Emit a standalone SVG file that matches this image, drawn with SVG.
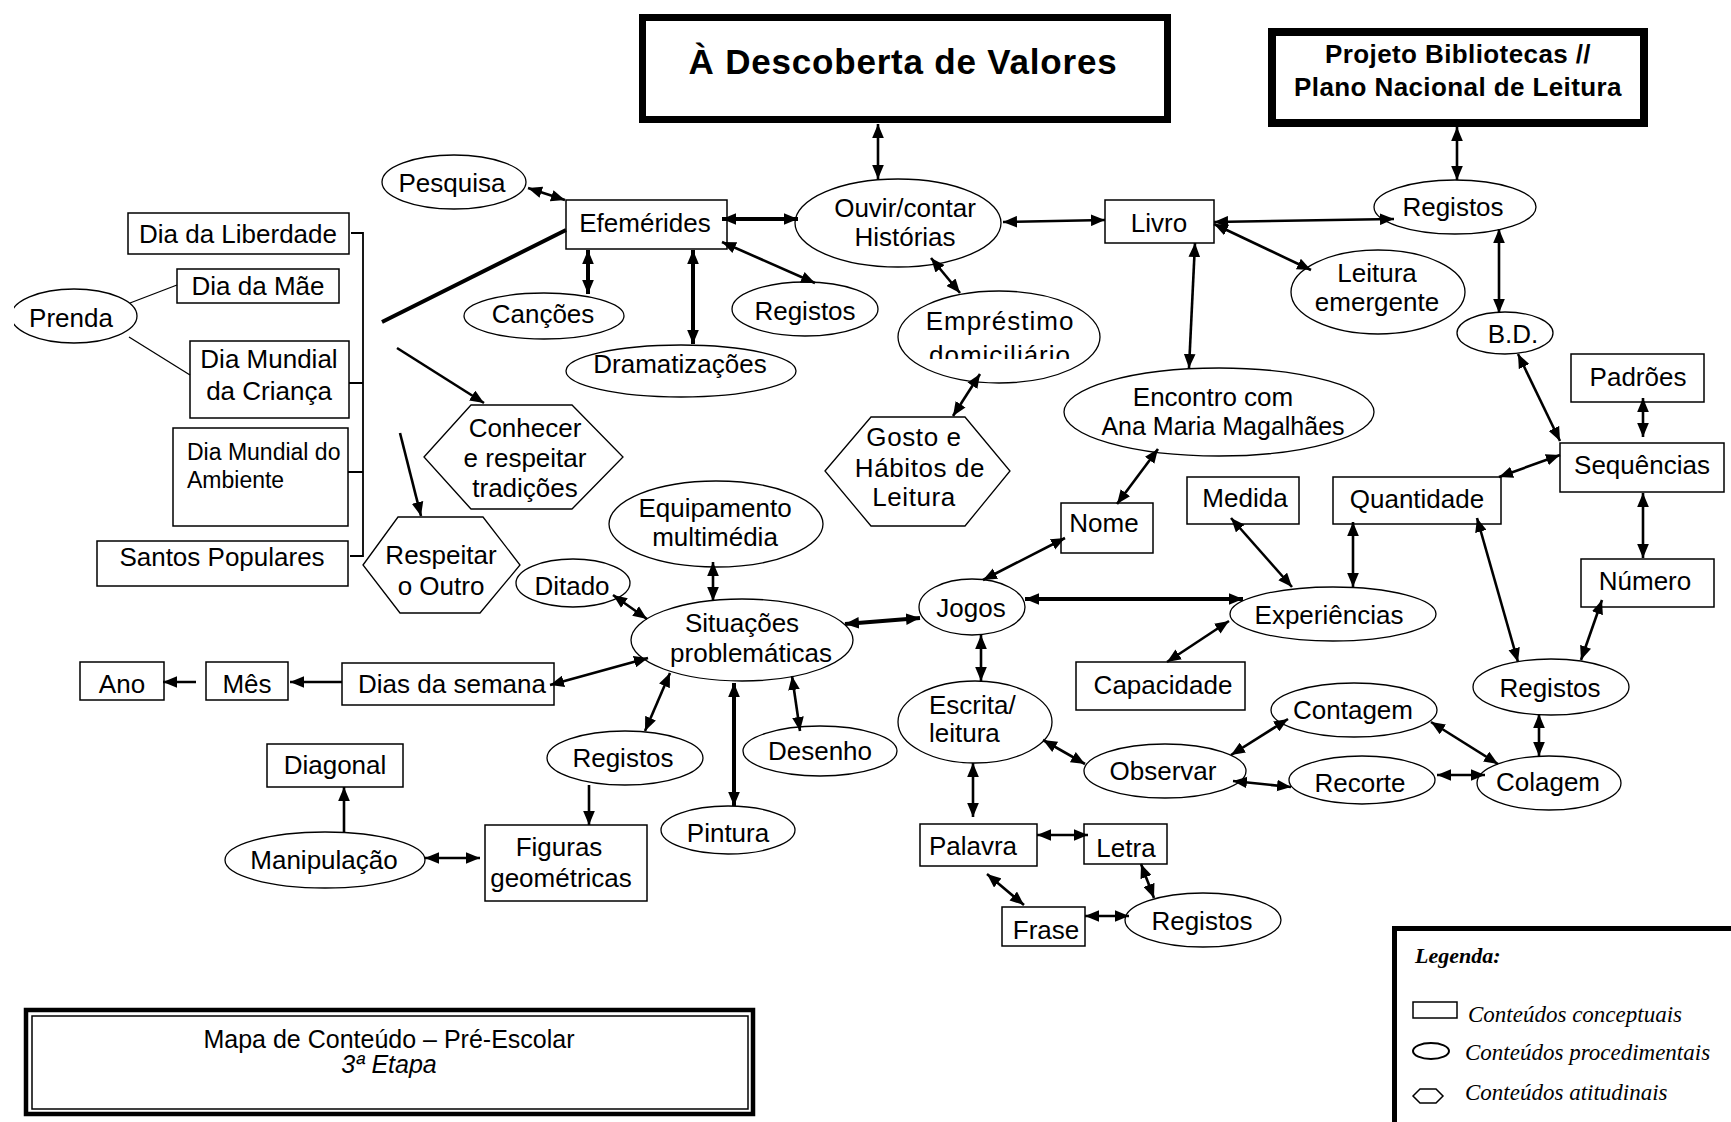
<svg xmlns="http://www.w3.org/2000/svg" width="1731" height="1122" viewBox="0 0 1731 1122">
<defs>
<marker id="a" viewBox="0 0 12 10" refX="12" refY="5" markerWidth="14" markerHeight="12" markerUnits="userSpaceOnUse" orient="auto-start-reverse"><path d="M0,0 L12,5 L0,10 z" fill="#000"/></marker>
<clipPath id="clipDom"><rect x="880" y="290" width="240" height="69"/></clipPath>
<clipPath id="clipPrenda"><rect x="14" y="280" width="140" height="80"/></clipPath>
</defs>
<style>
.n rect,.n ellipse,.n polygon{fill:#fff;stroke:#000;stroke-width:1.5}
.n ellipse,.n polygon{stroke-width:1.3}
text{font-family:"Liberation Sans",Arial,sans-serif;font-size:26px;fill:#000;text-anchor:middle}
.l{text-anchor:start}
.c line,.c path{stroke:#000;stroke-width:2.6;fill:none}
.c .b{marker-start:url(#a);marker-end:url(#a)}
.c .e{marker-end:url(#a)}
.c .k{stroke-width:4}
.c .thin{stroke-width:1.3}
.lg{font-family:"Liberation Serif","Times New Roman",serif;font-style:italic;font-size:23px;text-anchor:start}
</style>
<rect width="1731" height="1122" fill="#fff"/>

<g id="title" class="n">
<rect x="642.5" y="17.5" width="525" height="102" style="stroke-width:7"/>
<text x="903" y="74" style="font-weight:bold;font-size:35px;letter-spacing:0.8px">À Descoberta de Valores</text>
</g>
<g id="projeto" class="n">
<rect x="1272" y="32" width="372" height="91" style="stroke-width:8"/>
<text x="1458" y="63" style="font-weight:bold;letter-spacing:0.4px">Projeto Bibliotecas //</text>
<text x="1458" y="96" style="font-weight:bold;letter-spacing:0.4px">Plano Nacional de Leitura</text>
</g>

<g id="efemerides" class="n"><rect x="566" y="200" width="161" height="49"/><text x="645" y="232">Efemérides</text></g>
<g id="pesquisa" class="n"><ellipse cx="454" cy="182" rx="72" ry="27"/><text x="452" y="192">Pesquisa</text></g>
<g id="ouvir" class="n"><ellipse cx="898" cy="223" rx="103" ry="44"/><text x="905" y="217">Ouvir/contar</text><text x="905" y="246">Histórias</text></g>
<g id="cancoes" class="n"><ellipse cx="544" cy="316" rx="80" ry="23"/><text x="543" y="323">Canções</text></g>
<g id="registos1" class="n"><ellipse cx="805" cy="309" rx="73" ry="27"/><text x="805" y="320">Registos</text></g>
<g id="dramatizacoes" class="n"><ellipse cx="681" cy="371" rx="115" ry="26"/><text x="680" y="373">Dramatizações</text></g>
<g id="emprestimo" class="n"><ellipse cx="999" cy="337" rx="101" ry="46"/><text x="1000" y="330" style="letter-spacing:1px">Empréstimo</text><text x="1000" y="364" clip-path="url(#clipDom)" style="letter-spacing:1px">domiciliário</text></g>
<g id="gosto" class="n"><polygon points="825,471 871,417 965,417 1010,471 965,526 871,526"/><text x="914" y="446" style="letter-spacing:0.6px">Gosto e</text><text x="920" y="477" style="letter-spacing:0.6px">Hábitos de</text><text x="914" y="506" style="letter-spacing:0.6px">Leitura</text></g>
<g id="livro" class="n"><rect x="1105" y="200" width="109" height="43"/><text x="1159" y="232">Livro</text></g>
<g id="registos2" class="n"><ellipse cx="1455" cy="207" rx="81" ry="27"/><text x="1453" y="216">Registos</text></g>
<g id="leitura" class="n"><ellipse cx="1378" cy="292" rx="87" ry="42"/><text x="1377" y="282">Leitura</text><text x="1377" y="311">emergente</text></g>
<g id="bd" class="n"><ellipse cx="1505" cy="333" rx="48" ry="21"/><text x="1513" y="343">B.D.</text></g>
<g id="encontro" class="n"><ellipse cx="1219" cy="412" rx="155" ry="44"/><text x="1213" y="406">Encontro com</text><text x="1223" y="435" style="font-size:25px">Ana Maria Magalhães</text></g>
<g id="padroes" class="n"><rect x="1571" y="354" width="133" height="48"/><text x="1638" y="386">Padrões</text></g>
<g id="sequencias" class="n"><rect x="1560" y="443" width="164" height="49"/><text x="1642" y="474">Sequências</text></g>
<g id="numero" class="n"><rect x="1581" y="559" width="133" height="48"/><text x="1645" y="590">Número</text></g>
<g id="quantidade" class="n"><rect x="1333" y="477" width="168" height="47"/><text x="1417" y="508">Quantidade</text></g>
<g id="medida" class="n"><rect x="1187" y="477" width="112" height="47"/><text x="1245" y="507">Medida</text></g>
<g id="nome" class="n"><rect x="1061" y="503" width="92" height="50"/><text x="1104" y="532">Nome</text></g>
<g id="jogos" class="n"><ellipse cx="972" cy="607" rx="53" ry="28"/><text x="971" y="617">Jogos</text></g>
<g id="experiencias" class="n"><ellipse cx="1333" cy="614" rx="103" ry="27"/><text x="1329" y="624">Experiências</text></g>
<g id="capacidade" class="n"><rect x="1076" y="662" width="169" height="48"/><text x="1163" y="694">Capacidade</text></g>
<g id="registos3" class="n"><ellipse cx="1551" cy="687" rx="78" ry="28"/><text x="1550" y="697">Registos</text></g>
<g id="contagem" class="n"><ellipse cx="1354" cy="710" rx="83" ry="27"/><text x="1353" y="719">Contagem</text></g>
<g id="recorte" class="n"><ellipse cx="1362" cy="780" rx="73" ry="24"/><text x="1360" y="792">Recorte</text></g>
<g id="colagem" class="n"><ellipse cx="1549" cy="783" rx="72" ry="27"/><text x="1548" y="791">Colagem</text></g>
<g id="observar" class="n"><ellipse cx="1165" cy="771" rx="81" ry="27"/><text x="1163" y="780">Observar</text></g>
<g id="escrita" class="n"><ellipse cx="975" cy="722" rx="77" ry="41"/><text class="l" x="929" y="714">Escrita/</text><text class="l" x="929" y="742">leitura</text></g>
<g id="palavra" class="n"><rect x="920" y="824" width="117" height="42"/><text x="973" y="855">Palavra</text></g>
<g id="letra" class="n"><rect x="1084" y="824" width="83" height="40"/><text x="1126" y="857">Letra</text></g>
<g id="frase" class="n"><rect x="1002" y="907" width="83" height="39"/><text x="1046" y="939">Frase</text></g>
<g id="registos4" class="n"><ellipse cx="1203" cy="920" rx="78" ry="27"/><text x="1202" y="930">Registos</text></g>

<g id="liberdade" class="n"><rect x="128" y="213" width="221" height="41"/><text x="238" y="243">Dia da Liberdade</text></g>
<g id="mae" class="n"><rect x="177" y="269" width="162" height="34"/><text x="258" y="295">Dia da Mãe</text></g>
<g id="prenda" class="n"><ellipse cx="74" cy="316" rx="63" ry="27" clip-path="url(#clipPrenda)"/><text x="71" y="327">Prenda</text></g>
<g id="crianca" class="n"><rect x="190" y="341" width="159" height="77"/><text x="269" y="368">Dia Mundial</text><text x="269" y="400">da Criança</text></g>
<g id="ambiente" class="n"><rect x="173" y="428" width="175" height="98"/><text class="l" x="187" y="460" style="font-size:23px">Dia Mundial do</text><text class="l" x="187" y="488" style="font-size:23px">Ambiente</text></g>
<g id="santos" class="n"><rect x="97" y="541" width="251" height="45"/><text x="222" y="566">Santos Populares</text></g>
<g id="conhecer" class="n"><polygon points="424,457 471,405 572,405 623,457 572,509 471,509"/><text x="525" y="437">Conhecer</text><text x="525" y="467">e respeitar</text><text x="525" y="497">tradições</text></g>
<g id="respeitar" class="n"><polygon points="363,565 398,517 483,517 520,565 480,613 400,613"/><text x="441" y="564">Respeitar</text><text x="441" y="595">o Outro</text></g>
<g id="equipamento" class="n"><ellipse cx="716" cy="524" rx="107" ry="43"/><text x="715" y="517">Equipamento</text><text x="715" y="546">multimédia</text></g>
<g id="ditado" class="n"><ellipse cx="573" cy="583" rx="57" ry="24"/><text x="572" y="595">Ditado</text></g>
<g id="situacoes" class="n"><ellipse cx="742" cy="640" rx="111" ry="41"/><text x="742" y="632">Situações</text><text x="751" y="662">problemáticas</text></g>
<g id="dias" class="n"><rect x="342" y="663" width="212" height="42"/><text x="452" y="693">Dias da semana</text></g>
<g id="mes" class="n"><rect x="206" y="662" width="82" height="38"/><text x="247" y="693">Mês</text></g>
<g id="ano" class="n"><rect x="80" y="662" width="84" height="38"/><text x="122" y="693">Ano</text></g>
<g id="registos5" class="n"><ellipse cx="625" cy="758" rx="78" ry="27"/><text x="623" y="767">Registos</text></g>
<g id="desenho" class="n"><ellipse cx="820" cy="751" rx="77" ry="25"/><text x="820" y="760">Desenho</text></g>
<g id="pintura" class="n"><ellipse cx="728" cy="830" rx="67" ry="24"/><text x="728" y="842">Pintura</text></g>
<g id="diagonal" class="n"><rect x="267" y="744" width="136" height="43"/><text x="335" y="774">Diagonal</text></g>
<g id="manipulacao" class="n"><ellipse cx="325" cy="860" rx="100" ry="28"/><text x="324" y="869">Manipulação</text></g>
<g id="figuras" class="n"><rect x="485" y="825" width="162" height="76"/><text x="559" y="856">Figuras</text><text x="561" y="887">geométricas</text></g>

<g id="connectors" class="c">
<line class="b" x1="878" y1="124" x2="878" y2="179"/>
<line class="b" x1="1457" y1="127" x2="1457" y2="180"/>
<line class="b" x1="528" y1="188" x2="565" y2="200"/>
<line class="b k" x1="722" y1="219" x2="798" y2="219"/>
<line class="b k" x1="588" y1="250" x2="588" y2="294"/>
<line class="b k" x1="693" y1="250" x2="693" y2="344"/>
<line class="b" x1="722" y1="242" x2="815" y2="283"/>
<line class="b" x1="1003" y1="222" x2="1105" y2="220"/>
<line class="b" x1="931" y1="258" x2="960" y2="293"/>
<line class="b" x1="980" y1="374" x2="953" y2="416"/>
<line class="b" x1="1214" y1="222" x2="1394" y2="219"/>
<line class="b" x1="1214" y1="224" x2="1311" y2="270"/>
<line class="b" x1="1195" y1="243" x2="1189" y2="368"/>
<line class="b" x1="1499" y1="229" x2="1499" y2="313"/>
<line class="b" x1="1518" y1="354" x2="1560" y2="441"/>
<line class="b" x1="1643" y1="398" x2="1643" y2="437"/>
<line class="b" x1="1560" y1="455" x2="1499" y2="477"/>
<line class="b" x1="1643" y1="493" x2="1643" y2="558"/>
<line class="b" x1="1602" y1="600" x2="1581" y2="660"/>
<line class="b" x1="1477" y1="518" x2="1518" y2="662"/>
<line class="b" x1="1353" y1="522" x2="1353" y2="587"/>
<line class="b" x1="1231" y1="518" x2="1292" y2="587"/>
<line class="b" x1="1167" y1="662" x2="1229" y2="621"/>
<line class="b k" x1="1025" y1="599" x2="1243" y2="599"/>
<line class="b" x1="1158" y1="449" x2="1117" y2="504"/>
<line class="b" x1="983" y1="580" x2="1065" y2="538"/>
<line class="b k" x1="845" y1="624" x2="920" y2="618"/>
<line class="b" x1="981" y1="635" x2="981" y2="681"/>
<line class="b" x1="1043" y1="740" x2="1085" y2="764"/>
<line class="b" x1="1231" y1="755" x2="1288" y2="719"/>
<line class="b" x1="1233" y1="781" x2="1291" y2="787"/>
<line class="b" x1="1431" y1="722" x2="1498" y2="764"/>
<line class="b" x1="1437" y1="775" x2="1485" y2="775"/>
<line class="b" x1="1539" y1="714" x2="1539" y2="756"/>
<line class="b" x1="973" y1="763" x2="973" y2="817"/>
<line class="b" x1="1037" y1="835" x2="1088" y2="835"/>
<line class="b" x1="987" y1="874" x2="1024" y2="905"/>
<line class="b" x1="1141" y1="864" x2="1154" y2="898"/>
<line class="b" x1="1085" y1="916" x2="1129" y2="916"/>
<line class="b" x1="713" y1="562" x2="713" y2="601"/>
<line class="b" x1="613" y1="595" x2="647" y2="619"/>
<line class="b" x1="648" y1="658" x2="550" y2="685"/>
<line class="e" x1="342" y1="682" x2="290" y2="682"/>
<line class="e" x1="196" y1="682" x2="163" y2="682"/>
<line class="b" x1="670" y1="673" x2="645" y2="731"/>
<line class="e" x1="589" y1="785" x2="589" y2="825"/>
<line class="e" x1="344" y1="832" x2="344" y2="787"/>
<line class="b" x1="425" y1="858" x2="480" y2="858"/>
<line class="b k" x1="734" y1="683" x2="734" y2="806"/>
<line class="b" x1="792" y1="676" x2="800" y2="731"/>
<line class="k" x1="566" y1="230" x2="382" y2="322"/>
<line class="e" x1="397" y1="348" x2="484" y2="403"/>
<line class="e" x1="400" y1="433" x2="421" y2="516"/>
<line class="thin" x1="130" y1="303" x2="177" y2="285"/>
<line class="thin" x1="129" y1="337" x2="190" y2="375"/>
<path class="thin" d="M351,233 H363 V556 H350 M349,383 H363 M348,472 H363" style="stroke-width:1.8"/>
</g>

<g id="mapa">
<rect x="26" y="1010" width="727" height="104" fill="none" stroke="#000" stroke-width="4.5"/>
<rect x="32" y="1016" width="716" height="93" fill="none" stroke="#000" stroke-width="1.5"/>
<text x="389" y="1048" style="font-size:25px">Mapa de Conteúdo – Pré-Escolar</text>
<text x="389" y="1073" style="font-size:25px;font-style:italic">3ª Etapa</text>
</g>

<g id="legenda">
<rect x="1394.5" y="928.5" width="400" height="300" fill="#fff" stroke="#000" stroke-width="5"/>
<text class="lg" x="1415" y="963" style="font-weight:bold;font-size:22px">Legenda:</text>
<rect x="1413" y="1002" width="44" height="16" fill="#fff" stroke="#000" stroke-width="1.5"/>
<text class="lg" x="1468" y="1022">Conteúdos conceptuais</text>
<ellipse cx="1431" cy="1051" rx="18" ry="8" fill="#fff" stroke="#000" stroke-width="2"/>
<text class="lg" x="1465" y="1060">Conteúdos procedimentais</text>
<polygon points="1413,1096 1420,1089 1436,1089 1443,1096 1436,1103 1420,1103" fill="#fff" stroke="#000" stroke-width="1.5"/>
<text class="lg" x="1465" y="1100">Conteúdos atitudinais</text>
</g>
</svg>
